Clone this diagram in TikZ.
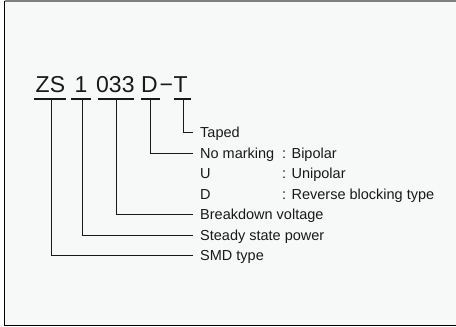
\documentclass[tikz,border=0pt]{standalone}
\usepackage{fontspec}
\setmainfont{Liberation Sans}
\definecolor{fondo}{RGB}{247,249,248}
\definecolor{tinta}{RGB}{25,25,25}
\begin{document}
\begin{tikzpicture}[x=1pt, y=-1pt, % Escala en puntos, eje y hacia abajo
    codigo/.style={font=\fontsize{23}{23}\selectfont, text=tinta, inner sep=0pt, anchor=base west},
    etiqueta/.style={font=\fontsize{14.5}{14.5}\selectfont, text=tinta, inner xsep=7pt, inner ysep=0pt,
        text height=10.4pt, text depth=0pt, anchor=west},
    valor/.style={etiqueta, inner xsep=0pt},
    subrayado/.style={tinta, line width=2pt},
    guia/.style={tinta, line width=0.9pt}]

    \useasboundingbox (0,0) rectangle (456,327);

    % 1. Marco con fondo gris claro
    \fill[fondo] (4.5,1) rectangle (460,325.5);
    \draw[gray, line width=1.2pt] (4.5,1) -- (460,1);
    \draw[black, line width=1pt] (4.5,0.5) -- (4.5,325.5) -- (460,325.5);

    % 2. Código del producto
    \node[codigo] (zs)    at (35.5,92)  {ZS};
    \node[codigo] (uno)   at (74.5,92)  {1};
    \node[codigo] (volt)  at (96,92)    {033};
    \node[codigo] (tipo)  at (141,92)   {D};
    \node[codigo] (guion) at (159.5,92) {−};
    \node[codigo] (cinta) at (173.5,92) {T};

    % 3. Subrayados y punto de salida de cada guía
    \foreach \n/\a/\b/\c in {zs/34/66/51, uno/71/91/82.7, volt/97.5/134.3/116.7,
                             tipo/141/160/150.3, cinta/174/190.7/183.3} {
        \draw[subrayado] (\a,99) -- (\b,99);
        \coordinate (s-\n) at (\c,99);
    }

    % 4. Etiquetas
    \node[etiqueta] (taped)    at (193,132.5) {Taped};
    \node[etiqueta] (marca)    at (193,153)   {No marking};
    \node[valor]    (bipolar)  at (282,153)   {: Bipolar};
    \node[etiqueta] (u)        at (193,173.5) {U};
    \node[valor]    (unipolar) at (282,173.5) {: Unipolar};
    \node[etiqueta] (d)        at (193,194)   {D};
    \node[valor]    (bloqueo)  at (282,194)   {: Reverse blocking type};
    \node[etiqueta] (ruptura)  at (193,214.5) {Breakdown voltage};
    \node[etiqueta] (potencia) at (193,235)   {Steady state power};
    \node[etiqueta] (smd)      at (193,255.5) {SMD type};

    % 5. Guías en escuadra
    \draw[guia] (s-cinta) |- (taped.west);
    \draw[guia] (s-tipo)  |- (marca.west);
    \draw[guia] (s-volt)  |- (ruptura.west);
    \draw[guia] (s-uno)   |- (potencia.west);
    \draw[guia] (s-zs)    |- (smd.west);

\end{tikzpicture}
\end{document}
